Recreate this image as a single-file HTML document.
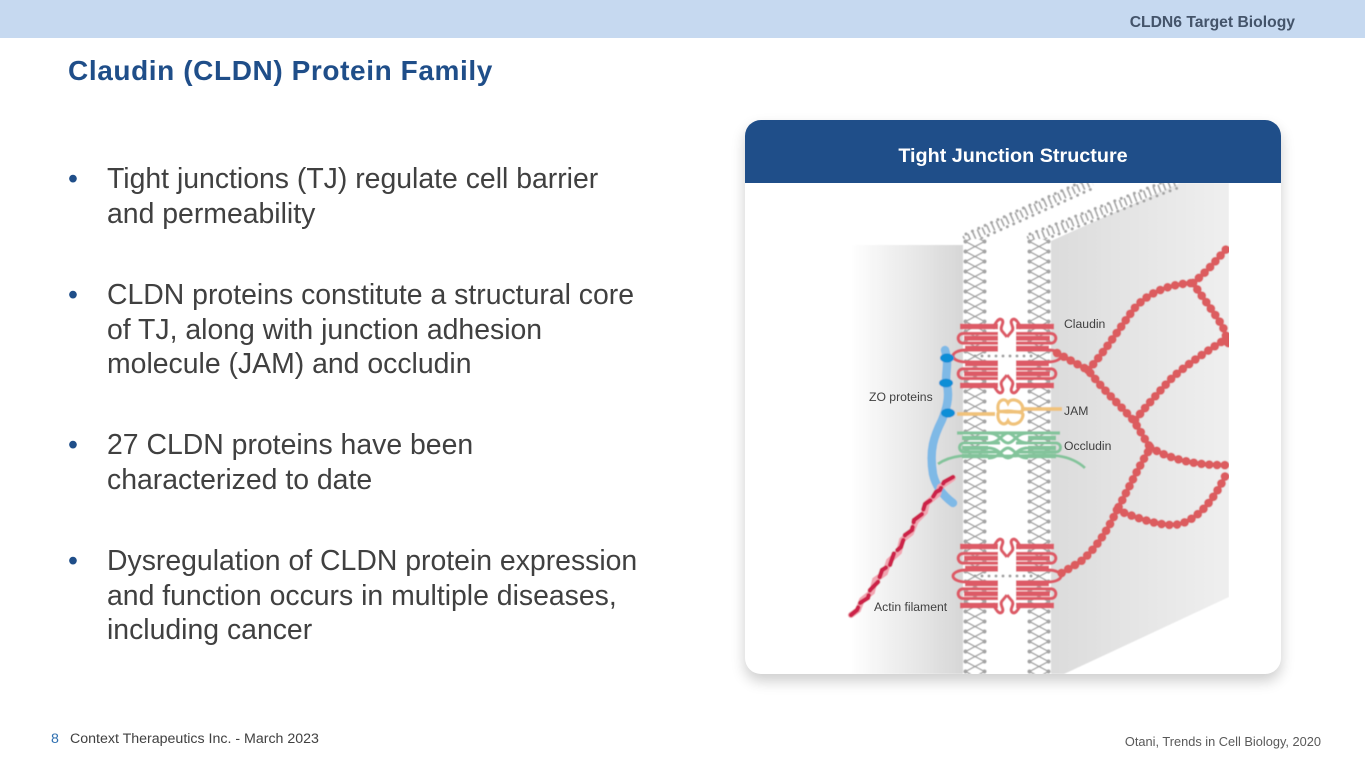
<!DOCTYPE html>
<html><head><meta charset="utf-8"><style>
html,body{margin:0;padding:0;background:#fff}
#s{position:relative;width:1365px;height:768px;overflow:hidden;font-family:"Liberation Sans",sans-serif;background:#fff}
#s div{position:absolute;white-space:nowrap}
.b{left:107px;font-size:28.4px;line-height:34.6px;color:#404040}
.d{left:68px;font-size:28.4px;line-height:34.6px;color:#1f4e89}
</style></head><body><div id="s">
<div style="left:0;top:0;width:1365px;height:38px;background:#c6d9f0"></div>
<div style="right:70px;top:14px;font-size:15.7px;font-weight:bold;color:#44546a;line-height:18px">CLDN6 Target Biology</div>
<div style="left:68px;top:54px;font-size:28px;font-weight:bold;color:#1f4e89;line-height:34px;letter-spacing:.6px">Claudin (CLDN) Protein Family</div>

<div class="d" style="top:162px">•</div>
<div class="b" style="top:162px">Tight junctions (TJ) regulate cell barrier<br>and permeability</div>
<div class="d" style="top:278px">•</div>
<div class="b" style="top:278px">CLDN proteins constitute a structural core<br>of TJ, along with junction adhesion<br>molecule (JAM) and occludin</div>
<div class="d" style="top:428px">•</div>
<div class="b" style="top:428px">27 CLDN proteins have been<br>characterized to date</div>
<div class="d" style="top:544px">•</div>
<div class="b" style="top:544px">Dysregulation of CLDN protein expression<br>and function occurs in multiple diseases,<br>including cancer</div>

<div style="left:745px;top:120px;width:536px;height:554px;border-radius:16px;background:#fff;box-shadow:0 7px 14px rgba(0,0,0,.2)"></div>
<div style="left:745px;top:120px;width:536px;height:63px;border-radius:16px 16px 0 0;background:#1f4e89"></div>
<div style="left:745px;top:143.5px;width:536px;text-align:center;font-size:19.8px;font-weight:bold;color:#fff;line-height:24px">Tight Junction Structure</div>

<svg style="position:absolute;left:0;top:0" width="1365" height="768" viewBox="0 0 1365 768">
<defs>
<linearGradient id="gl" x1="0" x2="1" y1="0" y2="0"><stop offset="0" stop-color="#fff"/><stop offset="1" stop-color="#d6d6d6"/></linearGradient>
<linearGradient id="gr" x1="0" x2="1" y1="0" y2="0"><stop offset="0" stop-color="#dcdcdc"/><stop offset="1" stop-color="#efefef"/></linearGradient>
<pattern id="lip" width="24" height="10" patternUnits="userSpaceOnUse">
<rect width="24" height="10" fill="#fff"/>
<path d="M2.5 2.5L21.5 12.5M21.5 2.5L2.5 12.5M2.5 -7.5L21.5 2.5M21.5 -7.5L2.5 2.5" stroke="#a0a0a0" stroke-width="1.3" fill="none"/>
<circle cx="2.5" cy="2.5" r="2.1" fill="#a4a4a4"/><circle cx="21.5" cy="2.5" r="2.1" fill="#a4a4a4"/>
</pattern>
<clipPath id="fig"><rect x="745" y="183" width="484" height="491"/></clipPath>
<filter id="bl" x="-5%" y="-5%" width="110%" height="110%"><feGaussianBlur stdDeviation=".5"/></filter>
<g id="half" fill="none" stroke="#dd5a66">
<path d="M960 326.5H998" stroke-width="5.5"/>
<path d="M998 333.5H963a4.8 4.8 0 0 0 0 9.6H998" stroke-width="3.2"/>
<path d="M964 338.3H998" stroke-width="5"/>
<path d="M965 348.5H998" stroke-width="5.5"/>
<path d="M998 350H966C958 350 953 353 953 356" stroke-width="3.2"/>
<path d="M993 329C995 323 999 317 1002 320C1005 323 999 327 1002 331L1007 337" stroke-width="3.2"/>
</g>
<g id="claudin">
<path d="M975 356H1040" stroke="#a0a0a0" stroke-width="3" stroke-linecap="round" stroke-dasharray="0 7"/>
<use href="#half"/>
<use href="#half" transform="translate(2014 0) scale(-1 1)"/>
<use href="#half" transform="translate(0 712) scale(1 -1)"/>
<use href="#half" transform="translate(2014 712) scale(-1 -1)"/>
</g>
</defs>

<g clip-path="url(#fig)" filter="url(#bl)">
<rect x="850" y="245" width="114" height="429" fill="url(#gl)"/>
<path d="M1051 241 L1180 183 H1229 V597 L1064 674 H1051Z" fill="url(#gr)"/>
<g fill="none" stroke="#a4a4a4">
<path d="M964 240L1092 182" stroke-width="8" stroke-dasharray="1.6 3.6"/>
<path d="M1028 240L1176 182" stroke-width="8" stroke-dasharray="1.6 3.6"/>
<path d="M966 234L1092 177M969 244L1096 187" stroke-width="3" stroke-linecap="round" stroke-dasharray="0 7"/>
<path d="M1030 234L1176 177M1033 244L1180 187" stroke-width="3" stroke-linecap="round" stroke-dasharray="0 7"/>
</g>
<rect transform="translate(963 239)" width="24" height="435" fill="url(#lip)"/>
<rect transform="translate(1027 239)" width="24" height="435" fill="url(#lip)"/>
<rect x="987" y="320" width="40" height="72" fill="#fff"/>
<rect x="987" y="540" width="40" height="72" fill="#fff"/>

<use href="#claudin"/>
<use href="#claudin" transform="translate(0 220)"/>

<!-- ZO -->
<path d="M945 350C950 365 944 375 947 385C950 398 946 410 942 420C934 436 929 450 933 474C936 488 945 497 953 503" fill="none" stroke="#7fb9e6" stroke-width="8.5" stroke-linecap="round"/>
<ellipse cx="947" cy="358" rx="7" ry="4.6" fill="#0e8ed6"/>
<ellipse cx="946" cy="383" rx="7" ry="4.4" fill="#0e8ed6"/>
<ellipse cx="948" cy="413" rx="7" ry="4.6" fill="#0e8ed6"/>

<!-- JAM -->
<g fill="none" stroke="#f0c27a" stroke-width="3.2">
<path d="M957 414H995" stroke-width="3.8"/><path d="M1021 409H1062" stroke-width="3.8"/>
<path d="M998 409C997 400 1005 397 1008 403C1011 397 1022 400 1023 409C1023 414 1014 411 1008 411C1003 411 998 413 998 409Z"/>
<path d="M998 414C997 423 1005 427 1008 421C1011 427 1022 424 1023 415C1023 411 1012 412 1008 412C1003 412 998 410 998 414Z"/>
</g>

<!-- Occludin -->
<g fill="none" stroke="#83c49b">
<path d="M957 433H1060" stroke-width="3.2"/>
<path d="M962 438H988M1028 438H1056M962 448H988M1028 448H1056M962 456H988M1028 456H1056" stroke-width="4.5"/>
<path d="M988 433C1000 433 1002 443 1008 443C1014 443 1016 433 1028 433M988 443C1000 443 1002 433 1008 433C1014 433 1016 443 1028 443" stroke-width="3"/>
<path d="M988 448C1000 448 1002 458 1008 458C1014 458 1016 448 1028 448M988 458C1000 458 1002 448 1008 448C1014 448 1016 458 1028 458" stroke-width="3"/>
<path d="M1000 443H964a4.5 4.5 0 0 0 0 9H1000M1016 443H1056a4.5 4.5 0 0 1 0 9H1016" stroke-width="3"/>
<path d="M938 464C955 452 975 456 1008 456C1040 456 1065 450 1085 468" stroke-width="2.8"/>
</g>

<!-- Beads -->
<g fill="none" stroke="#dc5c5e" stroke-linecap="round" stroke-width="8.8" stroke-dasharray="0 7.8">
<path d="M1057 353L1088 370C1105 392 1120 405 1133 420C1140 430 1145 440 1150 447"/>
<path d="M1088 370C1100 358 1120 328 1133 310C1148 292 1170 284 1193 283"/>
<path d="M1193 283L1200 277C1210 268 1220 256 1229 246"/>
<path d="M1193 283C1200 294 1214 312 1223 327L1229 345"/>
<path d="M1135 420C1150 402 1165 385 1173 377C1190 362 1212 348 1229 337"/>
<path d="M1150 447C1170 460 1200 466 1229 465"/>
<path d="M1148 452C1138 468 1128 490 1117 510"/>
<path d="M1117 510C1108 530 1095 550 1080 562L1060 574"/>
<path d="M1117 510C1135 517 1155 525 1173 525C1195 524 1215 500 1228 470"/>
</g>

<!-- Actin -->
<path d="M953 478L940 487L938 494L927 503L925 512L916 521L911 533L902 540L899 552L889 561L885 573L875 580L872 592L862 600L858 610L851 615" fill="none" stroke="#f2a6b2" stroke-width="6" stroke-linecap="round"/>
<path d="M953 477L944 482L940 490L936 492L931 500L925 504L922 514L914 520L912 530L905 535L901 547L894 553L890 565L882 570L878 582L870 590L868 598L860 603L857 610L851 615" fill="none" stroke="#cc2148" stroke-width="4.4" stroke-linecap="round" stroke-dasharray="12 5"/>
</g>

<g font-family="Liberation Sans, sans-serif" font-size="12.2" fill="#404040">
<text x="1064" y="328">Claudin</text>
<text x="869" y="401">ZO proteins</text>
<text x="1064" y="415">JAM</text>
<text x="1064" y="450">Occludin</text>
<text x="874" y="611">Actin filament</text>
</g>
</svg>

<div style="left:51px;top:731px;font-size:14.2px;line-height:16px;color:#2e6fb0">8</div>
<div style="left:70px;top:731px;font-size:14.2px;line-height:16px;color:#404040">Context Therapeutics Inc. - March 2023</div>
<div style="right:44px;top:734px;font-size:12.8px;line-height:16px;color:#595959">Otani, Trends in Cell Biology, 2020</div>
</div></body></html>
